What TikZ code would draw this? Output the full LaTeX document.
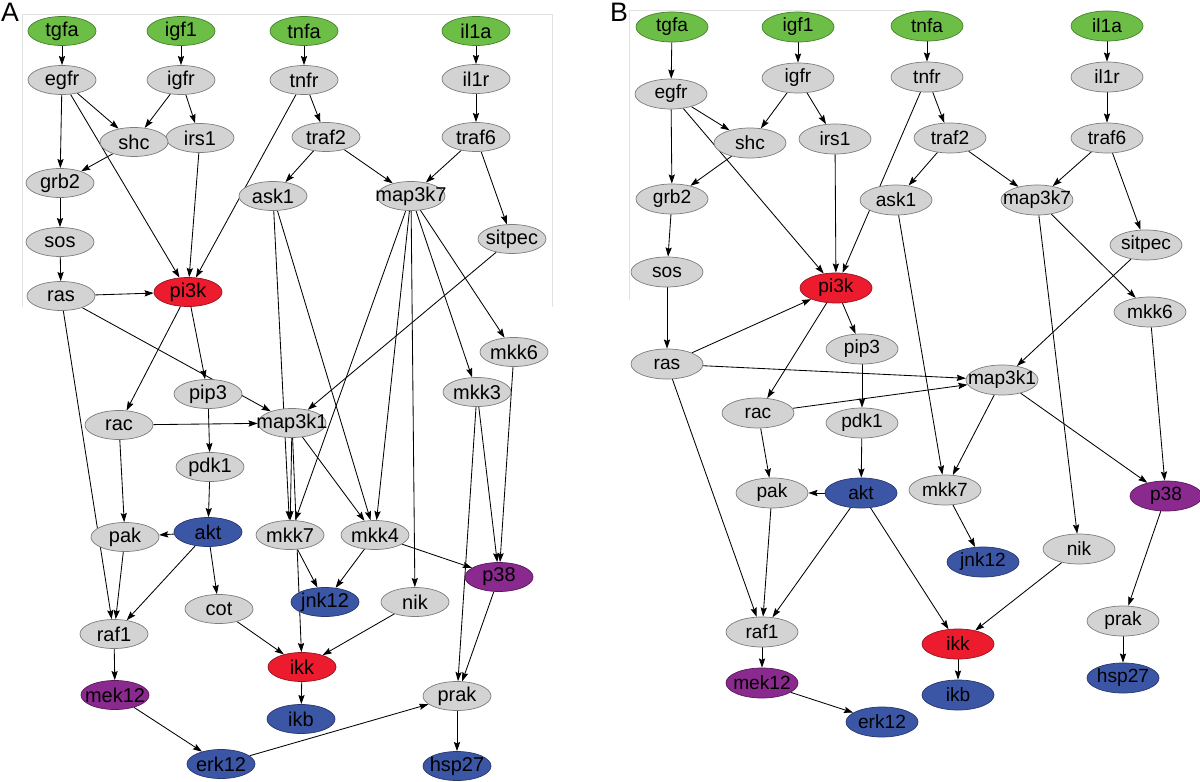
\documentclass[tikz,border=0pt]{standalone}
\usepackage{fontspec}
\setmainfont{Liberation Sans}
\usetikzlibrary{shapes.geometric,arrows.meta,backgrounds}
\definecolor{fgr}{RGB}{108,190,70}
\definecolor{dgr}{RGB}{70,130,45}
\definecolor{fgy}{RGB}{211,211,211}
\definecolor{dgy}{RGB}{125,125,125}
\definecolor{frd}{RGB}{236,28,46}
\definecolor{drd}{RGB}{150,20,30}
\definecolor{fbl}{RGB}{60,86,166}
\definecolor{dbl}{RGB}{40,55,110}
\definecolor{fpu}{RGB}{139,42,142}
\definecolor{dpu}{RGB}{90,25,90}
\definecolor{framecol}{RGB}{226,226,226}
\begin{document}
\begin{tikzpicture}[x=0.025cm,y=-0.025cm,
  nd/.style={ellipse, draw, line width=0.5pt, inner sep=0pt},
  na/.style={nd, minimum width=1.7cm, minimum height=0.725cm, font=\fontsize{14.2}{16}\selectfont},
  nb/.style={nd, minimum width=1.8cm, minimum height=0.75cm, font=\fontsize{13.6}{16}\selectfont},
  edge/.style={line width=0.6pt, -{Stealth[length=6.5pt,width=4.4pt,inset=1pt]}},
  panel/.style={font=\fontsize{19}{22}\selectfont, inner sep=0pt},
  fr/.style={draw=framecol, line width=0.6pt}]
\useasboundingbox (0,0) rectangle (1200,781);

\node[panel] (labA) at (10,12) {A};
\node[panel] (labB) at (619,12) {B};

% Panel A nodes
\foreach \n/\x/\y/\s in {
  tgfa/62/31/gr, igf1/181/31/gr, tnfa/304/31/gr, il1a/476/31/gr,
  egfr/62/80/gy, igfr/181/80/gy, tnfr/304/80/gy, il1r/476/79/gy,
  irs1/200/138/gy, shc/134/142/gy, traf2/326/137/gy, traf6/476/137/gy,
  grb2/60/183/gy, ask1/273/196/gy, map3k7/411/196/gy,
  sitpec/512/239/gy, sos/60/242/gy,
  ras/61/296/gy, pi3k/188/292/rd,
  mkk6/514/352/gy, mkk3/477/392/gy, pip3/208/394/gy, rac/119/425/gy, map3k1/292/423/gy,
  pdk1/210/467/gy,
  pak/125/537/gy, akt/208/532/bl, mkk7/290/535/gy, mkk4/375/535/gy,
  p38/499/577/pu, jnk12/325/602/bl, nik/415/602/gy, cot/219/609/gy,
  raf1/114/634/gy, ikk/302/667/rd,
  mek12/115/695/pu, prak/457/696/gy, ikb/301/719/bl,
  erk12/221/764/bl, hsp27/457/766/bl}
  \node[na, fill=f\s, draw=d\s] (a\n) at (\x,\y) {\makebox[0pt]{\n}};

% Panel B nodes
\foreach \n/\x/\y/\s in {
  tgfa/672/27/gr, igf1/798/27/gr, tnfa/927/26/gr, il1a/1107/26/gr,
  igfr/798/78/gy, egfr/671/94/gy, tnfr/927/77/gy, il1r/1107/77/gy,
  shc/750/143/gy, irs1/835/139/gy, traf2/950/138/gy, traf6/1107/138/gy,
  grb2/672/199/gy, ask1/896/200/gy, map3k7/1037/200/gy,
  sitpec/1146/245/gy, sos/667/272/gy, pi3k/836/288/rd,
  mkk6/1150/312/gy, pip3/862/349/gy, ras/667/364/gy, map3k1/1002/380/gy,
  rac/758/413/gy, pdk1/862/423/gy,
  pak/772/493/gy, akt/861/493/bl, mkk7/945/490/gy, p38/1166/496/pu,
  nik/1079/549/gy, jnk12/983/562/bl,
  prak/1123/621/gy, raf1/762/632/gy, ikk/958/644/rd,
  hsp27/1123/678/bl, mek12/762/683/pu, ikb/958/695/bl, erk12/882/722/bl}
  \node[nb, fill=f\s, draw=d\s] (b\n) at (\x,\y) {\makebox[0pt]{\n}};

\begin{pgfonlayer}{background}
  \coordinate (fa1) at (22,307);
  \coordinate (fa2) at (22,14);
  \coordinate (fa3) at (552,14);
  \coordinate (fa4) at (552,307);
  \draw[fr] (fa1) -- (fa2) -- (fa3) -- (fa4);
  \coordinate (fb1) at (629,300);
  \coordinate (fb2) at (629,10);
  \coordinate (fb3) at (905,10);
  \draw[fr] (fb1) -- (fb2) -- (fb3);

  \foreach \u/\v in {
    tgfa/egfr, igf1/igfr, tnfa/tnfr, il1a/il1r,
    egfr/shc, egfr/grb2, egfr/pi3k, igfr/shc, igfr/irs1,
    tnfr/traf2, tnfr/pi3k, il1r/traf6,
    traf2/ask1, traf2/map3k7, traf6/map3k7, traf6/sitpec,
    shc/grb2, irs1/pi3k, grb2/sos, sos/ras, ras/pi3k, ras/map3k1, ras/raf1,
    pi3k/pip3, pi3k/rac, rac/map3k1, rac/pak, pip3/pdk1, pdk1/akt,
    akt/pak, akt/raf1, akt/cot, pak/raf1, raf1/mek12, mek12/erk12, erk12/prak,
    cot/ikk, map3k1/ikk, nik/ikk, ikk/ikb,
    ask1/mkk7, ask1/mkk4, map3k1/mkk7, map3k1/mkk4,
    map3k7/mkk7, map3k7/mkk4, map3k7/nik, map3k7/mkk3, map3k7/mkk6,
    sitpec/map3k1, mkk7/jnk12, mkk4/jnk12, mkk4/p38,
    mkk3/p38, mkk3/prak, mkk6/p38, p38/prak, prak/hsp27}
    \draw[edge] (a\u) -- (a\v);

  \foreach \u/\v in {
    tgfa/egfr, igf1/igfr, tnfa/tnfr, il1a/il1r,
    egfr/shc, egfr/grb2, egfr/pi3k, igfr/shc, igfr/irs1,
    tnfr/traf2, tnfr/pi3k, il1r/traf6,
    traf2/ask1, traf2/map3k7, traf6/map3k7, traf6/sitpec,
    shc/grb2, irs1/pi3k, grb2/sos, sos/ras, ras/pi3k, ras/map3k1, ras/raf1,
    pi3k/pip3, pi3k/rac, rac/map3k1, rac/pak, pip3/pdk1, pdk1/akt,
    akt/pak, akt/raf1, akt/ikk, pak/raf1, raf1/mek12, mek12/erk12,
    ask1/mkk7, map3k1/mkk7, map3k1/p38, map3k7/nik, map3k7/mkk6,
    sitpec/map3k1, mkk6/p38, mkk7/jnk12, nik/ikk, ikk/ikb, p38/prak, prak/hsp27}
    \draw[edge] (b\u) -- (b\v);
\end{pgfonlayer}
\end{tikzpicture}
\end{document}
